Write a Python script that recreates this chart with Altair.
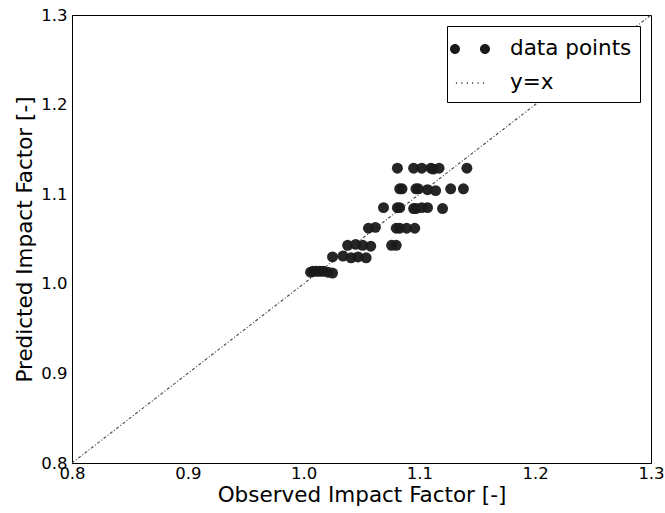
import altair as alt
import pandas as pd

# Observed vs predicted impact factor
observed = [
    1.081, 1.095, 1.102, 1.110, 1.112, 1.117, 1.141,
    1.083, 1.085, 1.097, 1.099, 1.107, 1.114, 1.127, 1.138,
    1.069, 1.081, 1.083, 1.095, 1.097, 1.102, 1.107, 1.120,
    1.056, 1.062, 1.080, 1.083, 1.089, 1.096,
    1.038, 1.045, 1.051, 1.058, 1.076, 1.080,
    1.025, 1.034, 1.041, 1.047, 1.054,
    1.006, 1.008, 1.011, 1.014, 1.017, 1.021, 1.025,
]
predicted = [
    1.129, 1.129, 1.129, 1.129, 1.128, 1.129, 1.129,
    1.106, 1.106, 1.106, 1.106, 1.105, 1.104, 1.106, 1.106,
    1.085, 1.085, 1.085, 1.084, 1.084, 1.085, 1.085, 1.084,
    1.062, 1.063, 1.062, 1.062, 1.062, 1.062,
    1.043, 1.044, 1.043, 1.042, 1.043, 1.043,
    1.030, 1.031, 1.029, 1.030, 1.029,
    1.013, 1.014, 1.014, 1.014, 1.014, 1.013, 1.012,
]

# Reference line y = x
line_x = [0.8, 1.3]
line_y = [0.8, 1.3]

series_names = ["data points", "y=x"]

points_df = pd.DataFrame({"obs": observed, "pred": predicted})
line_df = pd.DataFrame({"obs": line_x, "pred": line_y})
# One invisible row per series, only to feed the legend
legend_df = pd.DataFrame({"obs": observed[:2], "pred": predicted[:2], "series": series_names})


def circle_path(cx, r):
    return (f"M {cx - r:.3f} 0 A {r} {r} 0 1 0 {cx + r:.3f} 0 "
            f"A {r} {r} 0 1 0 {cx - r:.3f} 0 Z")


# Legend glyphs: a pair of filled circles, and a short dotted run
two_dots = " ".join(circle_path(c, 0.333) for c in [-1.0, 1.0])
dotted = " ".join(circle_path(c, 0.05) for c in [-0.9, -0.54, -0.18, 0.18, 0.54, 0.9])

FONT = "DejaVu Sans"

x_scale = alt.Scale(domain=[0.8, 1.3], nice=False, zero=False)
y_scale = alt.Scale(domain=[0.8, 1.3], nice=False, zero=False)

x_axis = alt.Axis(
    title="Observed Impact Factor [-]",
    values=[0.8, 0.9, 1.0, 1.1, 1.2, 1.3],
    format=".1f",
    grid=False,
    ticks=False,
    labelFlush=False,
    labelOverlap=False,
    labelPadding=2,
    titlePadding=3,
)
y_axis = alt.Axis(
    title="Predicted Impact Factor [-]",
    values=[0.8, 0.9, 1.0, 1.1, 1.2, 1.3],
    format=".1f",
    grid=False,
    ticks=False,
    labelFlush=False,
    labelOverlap=False,
    labelPadding=5,
    titlePadding=4,
)

enc_x = alt.X("obs:Q", scale=x_scale, axis=x_axis)
enc_y = alt.Y("pred:Q", scale=y_scale, axis=y_axis)

diag = alt.Chart(line_df).mark_line(
    color="#444444", strokeWidth=1.1, strokeDash=[3, 2, 1, 2]
).encode(x=enc_x, y=enc_y)

pts = alt.Chart(points_df).mark_circle(
    size=120, opacity=0.95, color="#1a1a1a"
).encode(x=enc_x, y=enc_y)

legend_layer = alt.Chart(legend_df).mark_point(
    filled=True, opacity=0, color="#1a1a1a"
).encode(
    x=enc_x,
    y=enc_y,
    shape=alt.Shape(
        "series:N",
        scale=alt.Scale(domain=series_names, range=[two_dots, dotted]),
        legend=alt.Legend(
            title=None,
            orient="top-right",
            offset=11,
            symbolSize=900,
            symbolOpacity=1,
            symbolFillColor="#1a1a1a",
            symbolStrokeWidth=0,
            labelFontSize=21.5,
            labelFont=FONT,
            labelColor="#000000",
            labelOffset=25,
            rowPadding=8,
            padding=8,
            fillColor="white",
            strokeColor="black",
        ),
    ),
)

chart = alt.layer(diag, pts, legend_layer).properties(
    width=579,
    height=448,
    autosize=alt.AutoSizeParams(type="none"),
    padding={"left": 72, "top": 15, "right": 14, "bottom": 50},
).configure_view(
    stroke="black", strokeWidth=1
).configure_axis(
    domainColor="black",
    labelFont=FONT,
    labelFontSize=16.5,
    labelColor="#000000",
    titleFont=FONT,
    titleFontSize=21.5,
    titleFontWeight="normal",
    titleColor="#000000",
)

chart.save("out.html", embed_options={"renderer": "svg", "actions": False})
